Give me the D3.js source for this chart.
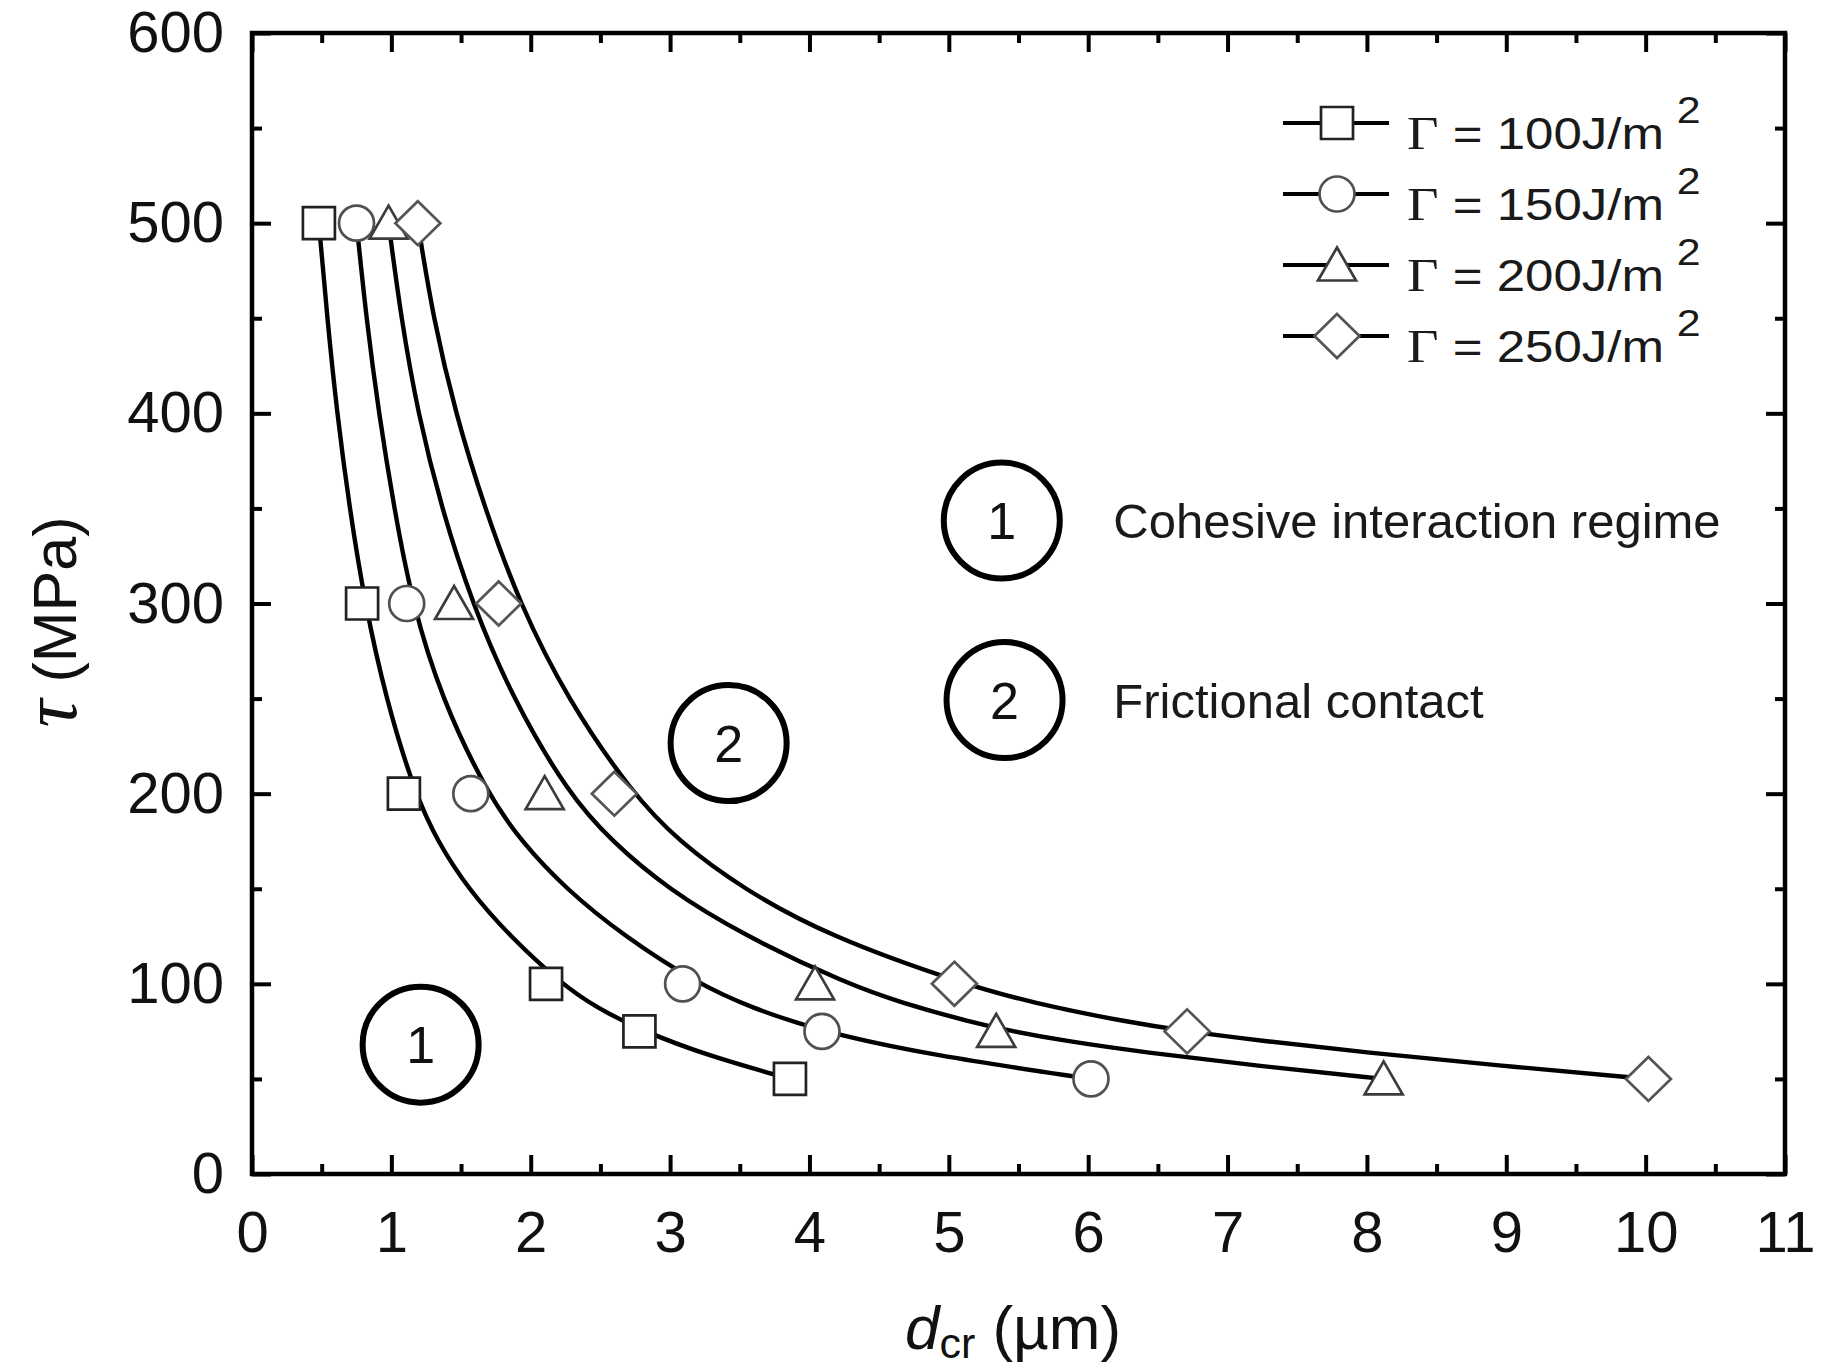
<!DOCTYPE html>
<html><head><meta charset="utf-8">
<script src="https://cdn.jsdelivr.net/npm/d3@7"></script>
<style>html,body{margin:0;padding:0;background:#fff;} svg{display:block}</style>
</head><body>
<svg id="chart" width="1826" height="1370"></svg>
<script>
// ---------- data ----------
const xTickValues = [0,1,2,3,4,5,6,7,8,9,10,11];
const yTickValues = [0,100,200,300,400,500,600];
const xMinorTicks = [0.5,1.5,2.5,3.5,4.5,5.5,6.5,7.5,8.5,9.5,10.5];
const yMinorTicks = [50,150,250,350,450,550];

const seriesNames = ["100", "150", "200", "250"];
const seriesShapes = ["square", "circle", "triangle", "diamond"];

// marker points: tau (MPa) and critical distance d (um)
const tauLevels = [500, 300, 200, 100, 75, 50];
const d100 = [0.48, 0.79, 1.09, 2.11, 2.78, 3.86];
const d150 = [0.75, 1.11, 1.57, 3.09, 4.09, 6.02];
const d200 = [0.98, 1.45, 2.10, 4.04, 5.34, 8.12];
const d250 = [1.19, 1.77, 2.60, 5.04, 6.71, 10.02];

// fitted curves as drawn in the reference
const fit100Tau = [500,450,400,350,300,250,200,175,150,125,100,87.5,75,62.5,50];
const fit100D   = [0.48,0.54,0.61,0.70,0.81,0.96,1.17,1.33,1.55,1.85,2.22,2.47,2.81,3.26,3.86];
const fit150Tau = [500,450,400,350,300,250,200,175,150,125,100,87.5,75,62.5,50];
const fit150D   = [0.75,0.82,0.91,1.02,1.15,1.36,1.69,1.93,2.25,2.67,3.20,3.58,4.08,4.87,6.02];
const fit200Tau = [500,450,400,350,300,250,200,175,150,125,100,90,80,75,70,64,57,50];
const fit200D   = [0.98,1.07,1.19,1.36,1.58,1.87,2.27,2.58,2.98,3.54,4.27,4.66,5.15,5.46,5.83,6.40,7.20,8.12];
const fit250Tau = [500,450,400,350,300,250,200,175,150,125,100,90,80,75,70,64,57,50];
const fit250D   = [1.19,1.30,1.46,1.67,1.92,2.26,2.73,3.06,3.52,4.14,5.10,5.60,6.27,6.71,7.25,7.98,8.95,10.02];

// regime annotations
const annoNumbers = ["1", "2", "2", "1"];
const annoD   = [5.38, 5.40, 3.42, 1.21];
const annoTau = [343.6, 249.2, 226.6, 68.0];
const regimeTexts = ["Cohesive interaction regime", "Frictional contact"];

// ---------- layout ----------
const svg = d3.select("#chart");
const x = d3.scaleLinear().domain([0, 11]).range([252, 1785]);
const y = d3.scaleLinear().domain([0, 600]).range([1174, 33]);
const SANS = "'Liberation Sans', Arial, Helvetica, sans-serif";
const SERIF = "'Liberation Serif', 'Times New Roman', serif";

svg.append("rect").attr("width", 1826).attr("height", 1370).attr("fill", "#fff");

function styleAxis(g, labels) {
  g.select(".domain").remove();
  g.selectAll(".tick line").attr("stroke", "#000").attr("stroke-width", 4);
  g.selectAll(".tick text")
    .attr("font-family", SANS).attr("font-size", 58).attr("fill", "#111");
  if (!labels) g.selectAll(".tick text").remove();
}

// bottom
svg.append("g").attr("transform", `translate(0,${y(0)})`)
  .call(d3.axisBottom(x).tickValues(xTickValues).tickSize(-19).tickPadding(37).tickFormat(d3.format("d")))
  .call(g => styleAxis(g, true));
svg.append("g").attr("transform", `translate(0,${y(0)})`)
  .call(d3.axisBottom(x).tickValues(xMinorTicks).tickSize(-10))
  .call(g => styleAxis(g, false));
// top
svg.append("g").attr("transform", `translate(0,${y(600)})`)
  .call(d3.axisTop(x).tickValues(xTickValues).tickSize(-19))
  .call(g => styleAxis(g, false));
svg.append("g").attr("transform", `translate(0,${y(600)})`)
  .call(d3.axisTop(x).tickValues(xMinorTicks).tickSize(-10))
  .call(g => styleAxis(g, false));
// left
svg.append("g").attr("transform", `translate(${x(0)},0)`)
  .call(d3.axisLeft(y).tickValues(yTickValues).tickSize(-19).tickPadding(28).tickFormat(d3.format("d")))
  .call(g => styleAxis(g, true));
svg.append("g").attr("transform", `translate(${x(0)},0)`)
  .call(d3.axisLeft(y).tickValues(yMinorTicks).tickSize(-10))
  .call(g => styleAxis(g, false));
// right
svg.append("g").attr("transform", `translate(${x(11)},0)`)
  .call(d3.axisRight(y).tickValues(yTickValues).tickSize(-19))
  .call(g => styleAxis(g, false));
svg.append("g").attr("transform", `translate(${x(11)},0)`)
  .call(d3.axisRight(y).tickValues(yMinorTicks).tickSize(-10))
  .call(g => styleAxis(g, false));

// frame
svg.append("rect")
  .attr("x", x(0)).attr("y", y(600))
  .attr("width", x(11) - x(0)).attr("height", y(0) - y(600))
  .attr("fill", "none").attr("stroke", "#000").attr("stroke-width", 4.5);

// ---------- curves ----------
const fits = [
  d3.zip(fit100D, fit100Tau),
  d3.zip(fit150D, fit150Tau),
  d3.zip(fit200D, fit200Tau),
  d3.zip(fit250D, fit250Tau)
];
const line = d3.line().x(p => x(p[0])).y(p => y(p[1])).curve(d3.curveBasis);
svg.append("g").selectAll("path").data(fits).join("path")
  .attr("d", line).attr("fill", "none").attr("stroke", "#000")
  .attr("stroke-width", 4.4).attr("stroke-linejoin", "round");

// ---------- markers ----------
function shapePath(shape) {
  switch (shape) {
    case "square": return "M-16,-16H16V16H-16Z";
    case "circle": return "M17.5,0A17.5,17.5 0 1,1 -17.5,0A17.5,17.5 0 1,1 17.5,0Z";
    case "triangle": return "M0,-17.5L19,15.5H-19Z";
    case "diamond": return "M0,-22L22.5,0L0,22L-22.5,0Z";
  }
}
const shapeStroke = {square: "#222", circle: "#505050", triangle: "#3c3c3c", diamond: "#555"};
const markerSets = [d100, d150, d200, d250];
markerSets.forEach((ds, i) => {
  svg.append("g").selectAll("path").data(d3.zip(ds, tauLevels)).join("path")
    .attr("transform", p => `translate(${x(p[0])},${y(p[1])})`)
    .attr("d", shapePath(seriesShapes[i]))
    .attr("fill", "#fff").attr("stroke", shapeStroke[seriesShapes[i]]).attr("stroke-width", 2.7);
});

// ---------- legend ----------
const legX0 = 1283, legX1 = 1389, legSym = 1337, legText = 1407, legY0 = 123, legDy = 71;
seriesNames.forEach((nm, i) => {
  const cy = legY0 + i * legDy;
  const g = svg.append("g");
  g.append("line").attr("x1", legX0).attr("x2", legX1).attr("y1", cy).attr("y2", cy)
    .attr("stroke", "#000").attr("stroke-width", 4.2);
  g.append("path").attr("transform", `translate(${legSym},${cy})`)
    .attr("d", shapePath(seriesShapes[i]))
    .attr("fill", "#fff").attr("stroke", shapeStroke[seriesShapes[i]]).attr("stroke-width", 2.7);
  const t = g.append("g").attr("transform", `translate(${legText},${cy + 26}) scale(1.16,1)`)
    .append("text").attr("fill", "#1a1a1a");
  t.append("tspan").attr("font-family", SERIF).attr("font-size", 47).text("Γ");
  t.append("tspan").attr("font-family", SANS).attr("font-size", 44).text(` = ${nm}J/m`);
  t.append("tspan").attr("font-family", SANS).attr("font-size", 37).attr("dx", 11).attr("dy", -26).text("2");
});

// ---------- regime annotations ----------
const ag = svg.append("g");
annoNumbers.forEach((n, i) => {
  ag.append("circle").attr("cx", x(annoD[i])).attr("cy", y(annoTau[i])).attr("r", 58)
    .attr("fill", "none").attr("stroke", "#000").attr("stroke-width", 6);
  ag.append("text").attr("x", x(annoD[i])).attr("y", y(annoTau[i]))
    .attr("dy", "0.36em").attr("text-anchor", "middle")
    .attr("font-family", SANS).attr("font-size", 52).attr("fill", "#111").text(n);
});
regimeTexts.forEach((t, i) => {
  ag.append("text").attr("x", x(6.18)).attr("y", y(annoTau[i])).attr("dy", "0.36em")
    .attr("font-family", SANS).attr("font-size", 49).attr("fill", "#1a1a1a").text(t);
});

// ---------- axis titles ----------
const xt = svg.append("text").attr("x", 1013).attr("y", 1349).attr("text-anchor", "middle")
  .attr("font-family", SANS).attr("fill", "#111");
xt.append("tspan").attr("font-size", 62).attr("font-style", "italic").text("d");
xt.append("tspan").attr("font-size", 43).attr("dy", 9).text("cr");
xt.append("tspan").attr("font-size", 62).attr("dy", -9).text(" (µm)");

const yt = svg.append("text").attr("transform", "translate(76,622) rotate(-90)")
  .attr("text-anchor", "middle").attr("font-family", SANS).attr("fill", "#111");
yt.append("tspan").attr("font-family", SERIF).attr("font-style", "italic").attr("font-size", 78).text("τ");
yt.append("tspan").attr("font-size", 61).text(" (MPa)");
</script>
</body></html>
